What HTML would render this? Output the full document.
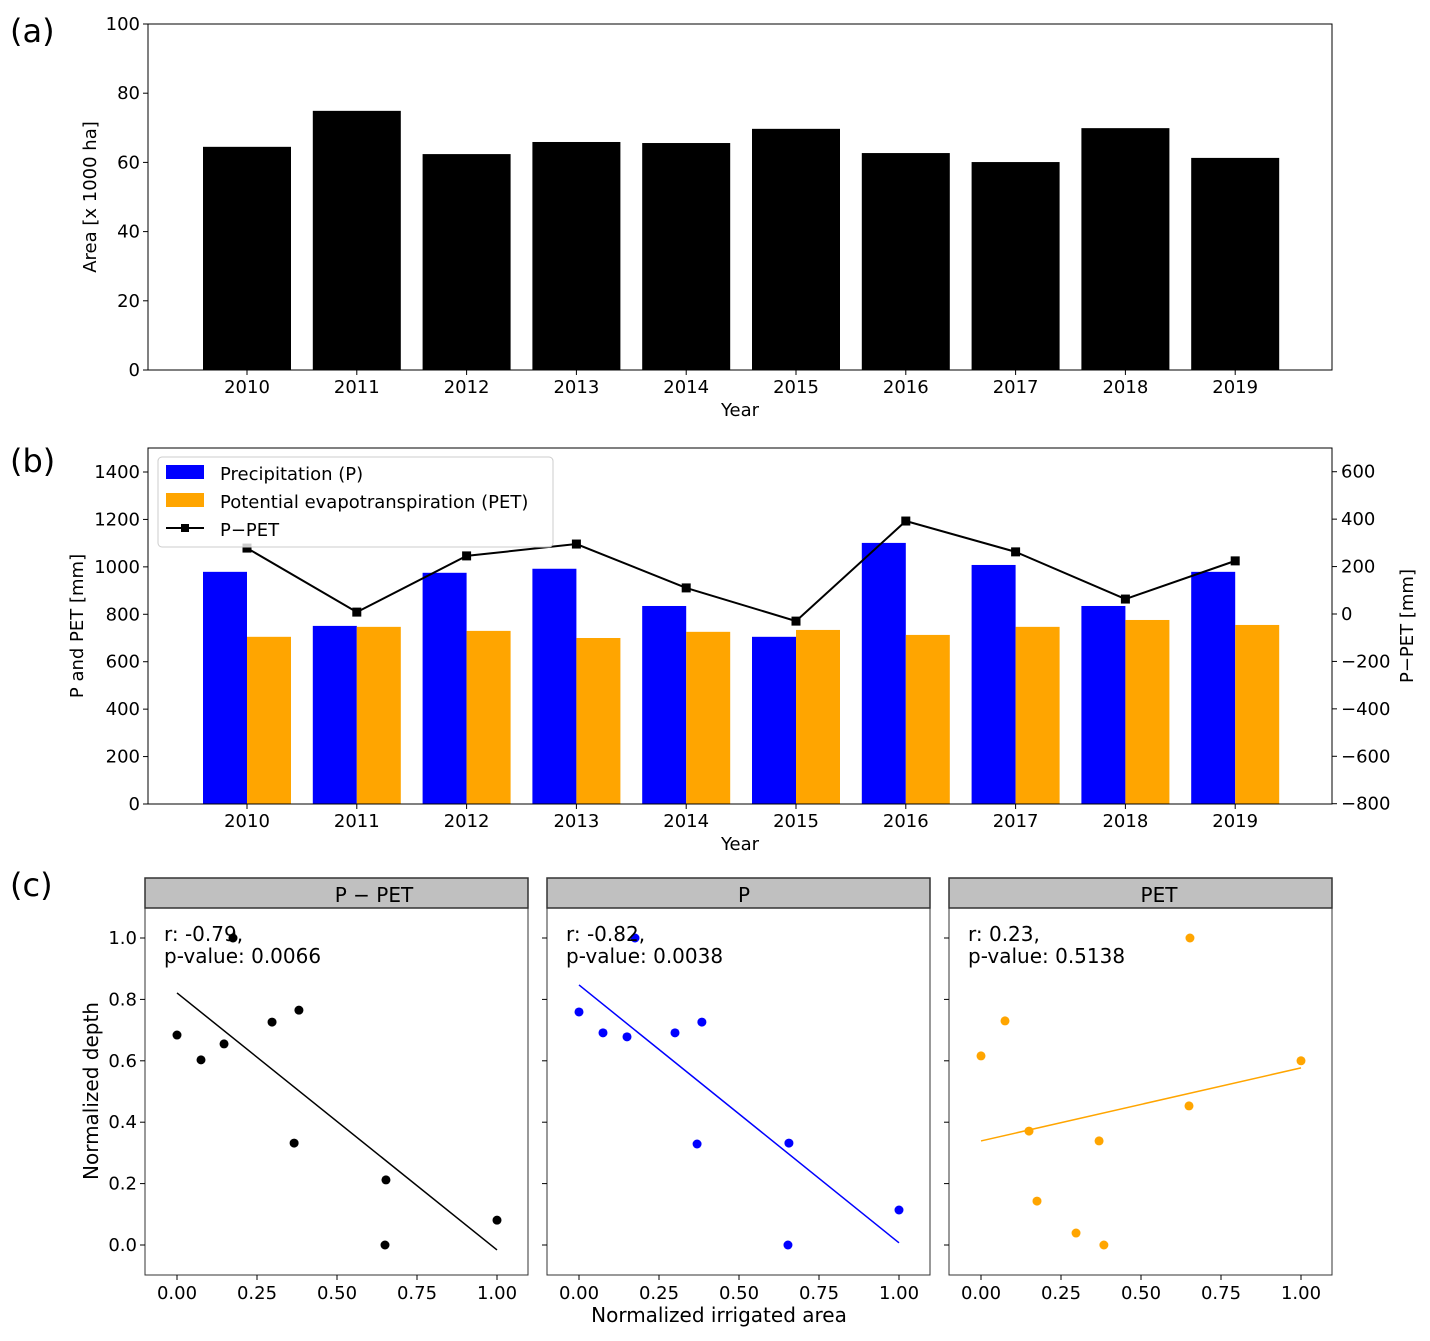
<!DOCTYPE html>
<html><head><meta charset="utf-8"><style>
html,body{margin:0;padding:0;background:#fff}
svg{display:block;font-family:"DejaVu Sans","Liberation Sans",sans-serif}
</style></head><body>
<svg id="c" width="1430" height="1341" viewBox="0 0 1430 1341" xmlns="http://www.w3.org/2000/svg"></svg>
<script>
const years=['2010','2011','2012','2013','2014','2015','2016','2017','2018','2019'];
const areaVals=[64.5,74.9,62.4,65.9,65.6,69.7,62.7,60.1,69.9,61.3];
const precipVals=[979,751,975,992,835,705,1101,1008,835,979];
const petVals=[705,747,730,700,726,734,713,747,776,755];
const pMinusPetVals=[278,8,245,295,110,-30,392,262,63,224];
const aTicks=[0,20,40,60,80,100];
const bLeftTicks=[0,200,400,600,800,1000,1200,1400];
const bRightTicks=[-800,-600,-400,-200,0,200,400,600];
const cTicksX=[0,0.25,0.5,0.75,1];
const cTicksY=[0,0.2,0.4,0.6,0.8,1];
const irrX=[0,0.075,0.147,0.175,0.297,0.381,0.366,0.653,0.65,1.0];
const depthPP=[0.684,0.603,0.655,1.0,0.726,0.765,0.332,0.212,0,0.081];
const irrX2=[0,0.075,0.15,0.175,0.3,0.384,0.369,0.656,0.653,1.0];
const depthP=[0.759,0.691,0.678,1.0,0.691,0.726,0.329,0.332,0,0.114];
const irrX3=[0,0.075,0.15,0.175,0.297,0.384,0.369,0.653,0.65,1.0];
const depthPET=[0.616,0.73,0.371,0.143,0.039,0,0.339,1.0,0.453,0.6];
const fitPP=[0.821,-0.016],fitP=[0.847,0.007],fitPET=[0.339,0.577];

const S=document.getElementById('c');const NS='http://www.w3.org/2000/svg';
function el(t,a,p){const e=document.createElementNS(NS,t);for(const k in a)e.setAttribute(k,a[k]);(p||S).appendChild(e);return e;}
function tx(s,x,y,o,p){const e=el('text',Object.assign({x:x,y:y,'font-size':18,fill:'#000'},o||{}),p);e.textContent=s;return e;}
function fmt(v){return v<0?'\u2212'+(-v):''+v;}

// ---- (a)
const gA=el('g',{});
const aL=148,aR=1332,aT=24,aB=370;
const ya=v=>aB-(v/100)*(aB-aT);
const xc=i=>247+i*109.8;
tx('(a)',10,42,{'font-size':32},gA);
years.forEach((y,i)=>{const r=el('rect',{x:xc(i)-44,y:ya(areaVals[i]),width:88,height:aB-ya(areaVals[i]),fill:'#000'},gA);

el('line',{x1:xc(i),x2:xc(i),y1:aB,y2:aB+5,stroke:'#000'},gA);tx(y,xc(i),aB+23,{'text-anchor':'middle'},gA);});
el('rect',{x:aL,y:aT,width:aR-aL,height:aB-aT,fill:'none',stroke:'#000','stroke-width':1},gA);
aTicks.forEach(v=>{el('line',{x1:aL-5,x2:aL,y1:ya(v),y2:ya(v),stroke:'#000'},gA);tx(fmt(v),aL-8,ya(v)+6,{'text-anchor':'end'},gA);});
tx('Year',740,416,{'text-anchor':'middle'},gA);
tx('Area [x 1000 ha]',96,197,{'text-anchor':'middle',transform:'rotate(-90 96 197)'},gA);

// ---- (b)
const gB=el('g',{});
const bT=448,bB=804,k=(804-472)/1400;
const yb=v=>bB-v*k; const yr=v=>614-v*k;
tx('(b)',10,472,{'font-size':32},gB);
years.forEach((y,i)=>{
 const r1=el('rect',{x:xc(i)-44,y:yb(precipVals[i]),width:44,height:bB-yb(precipVals[i]),fill:'#0000ff'},gB);
 
 const r2=el('rect',{x:xc(i),y:yb(petVals[i]),width:44,height:bB-yb(petVals[i]),fill:'#ffa500'},gB);
 
 el('line',{x1:xc(i),x2:xc(i),y1:bB,y2:bB+5,stroke:'#000'},gB);tx(y,xc(i),bB+23,{'text-anchor':'middle'},gB);});
const lp=el('polyline',{points:pMinusPetVals.map((v,i)=>xc(i)+','+yr(v)).join(' '),fill:'none',stroke:'#000','stroke-width':2},gB);

pMinusPetVals.forEach((v,i)=>{const m=el('rect',{x:xc(i)-4.5,y:yr(v)-4.5,width:9,height:9,fill:'#000'},gB);});
el('rect',{x:aL,y:bT,width:aR-aL,height:bB-bT,fill:'none',stroke:'#000'},gB);
bLeftTicks.forEach(v=>{el('line',{x1:aL-5,x2:aL,y1:yb(v),y2:yb(v),stroke:'#000'},gB);tx(fmt(v),aL-8,yb(v)+6,{'text-anchor':'end'},gB);});
bRightTicks.forEach(v=>{el('line',{x1:aR,x2:aR+5,y1:yr(v),y2:yr(v),stroke:'#000'},gB);tx(fmt(v),aR+9,yr(v)+6,{},gB);});
tx('Year',740,850,{'text-anchor':'middle'},gB);
tx('P and PET [mm]',83,626,{'text-anchor':'middle',transform:'rotate(-90 83 626)'},gB);
tx('P\u2212PET [mm]',1413,626,{'text-anchor':'middle',transform:'rotate(-90 1413 626)'},gB);
const lg=el('g',{},gB);
el('rect',{x:158,y:457,width:395,height:90,rx:4,fill:'#fff','fill-opacity':0.8,stroke:'#ccc'},lg);
el('rect',{x:166,y:465,width:38,height:14,fill:'#0000ff'},lg);tx('Precipitation (P)',220,480,{},lg);
el('rect',{x:166,y:493,width:38,height:14,fill:'#ffa500'},lg);tx('Potential evapotranspiration (PET)',220,508,{},lg);
el('line',{x1:166,x2:204,y1:528,y2:528,stroke:'#000','stroke-width':2},lg);el('rect',{x:181,y:524,width:8,height:8,fill:'#000'},lg);
tx('P\u2212PET',220,536,{},lg);

// ---- (c)
const gC=el('g',{});
tx('(c)',10,896,{'font-size':32},gC);
const facets=[{x0:145,z:177,tx:374,title:'P \u2212 PET',xs:irrX,ys:depthPP,fit:fitPP,col:'#000',r:'r: -0.79,',p:'p-value: 0.0066',n:'p-minus-pet'},
{x0:547,z:579,tx:744,title:'P',xs:irrX2,ys:depthP,fit:fitP,col:'#0000ff',r:'r: -0.82,',p:'p-value: 0.0038',n:'p'},
{x0:949,z:981,tx:1159,title:'PET',xs:irrX3,ys:depthPET,fit:fitPET,col:'#ffa500',r:'r: 0.23,',p:'p-value: 0.5138',n:'pet'}];
const cT=908,cB=1275;const yc=v=>1245-v*307;
facets.forEach((f,fi)=>{
 const g=el('g',{},gC);
 const xcf=v=>f.z+v*320;
 el('rect',{x:f.x0,y:878,width:383,height:30,fill:'#c0c0c0',stroke:'#333','stroke-width':1.5},g);
 tx(f.title,f.tx,902,{'text-anchor':'middle','font-size':20},g);
 el('rect',{x:f.x0,y:cT,width:383,height:cB-cT,fill:'none',stroke:'#333'},g);
 cTicksY.forEach(v=>{el('line',{x1:f.x0-5,x2:f.x0,y1:yc(v),y2:yc(v),stroke:'#000'},g);if(fi==0)tx(v.toFixed(1),f.x0-8,yc(v)+6,{'text-anchor':'end'},g);});
 cTicksX.forEach(v=>{el('line',{x1:xcf(v),x2:xcf(v),y1:cB,y2:cB+5,stroke:'#000'},g);tx(v.toFixed(2),xcf(v),cB+24,{'text-anchor':'middle'},g);});
 const fl=el('line',{x1:xcf(0),y1:yc(f.fit[0]),x2:xcf(1),y2:yc(f.fit[1]),stroke:f.col,'stroke-width':1.5},g);
 
 f.xs.forEach((v,i)=>{const c=el('circle',{cx:xcf(v),cy:yc(f.ys[i]),r:4.5,fill:f.col},g);});
 tx(f.r,f.x0+19,941,{'font-size':20},g);tx(f.p,f.x0+19,963,{'font-size':20},g);
});
tx('Normalized irrigated area',719,1322,{'text-anchor':'middle','font-size':20},gC);
tx('Normalized depth',98,1091,{'text-anchor':'middle','font-size':20,transform:'rotate(-90 98 1091)'},gC);
</script>
</body></html>
